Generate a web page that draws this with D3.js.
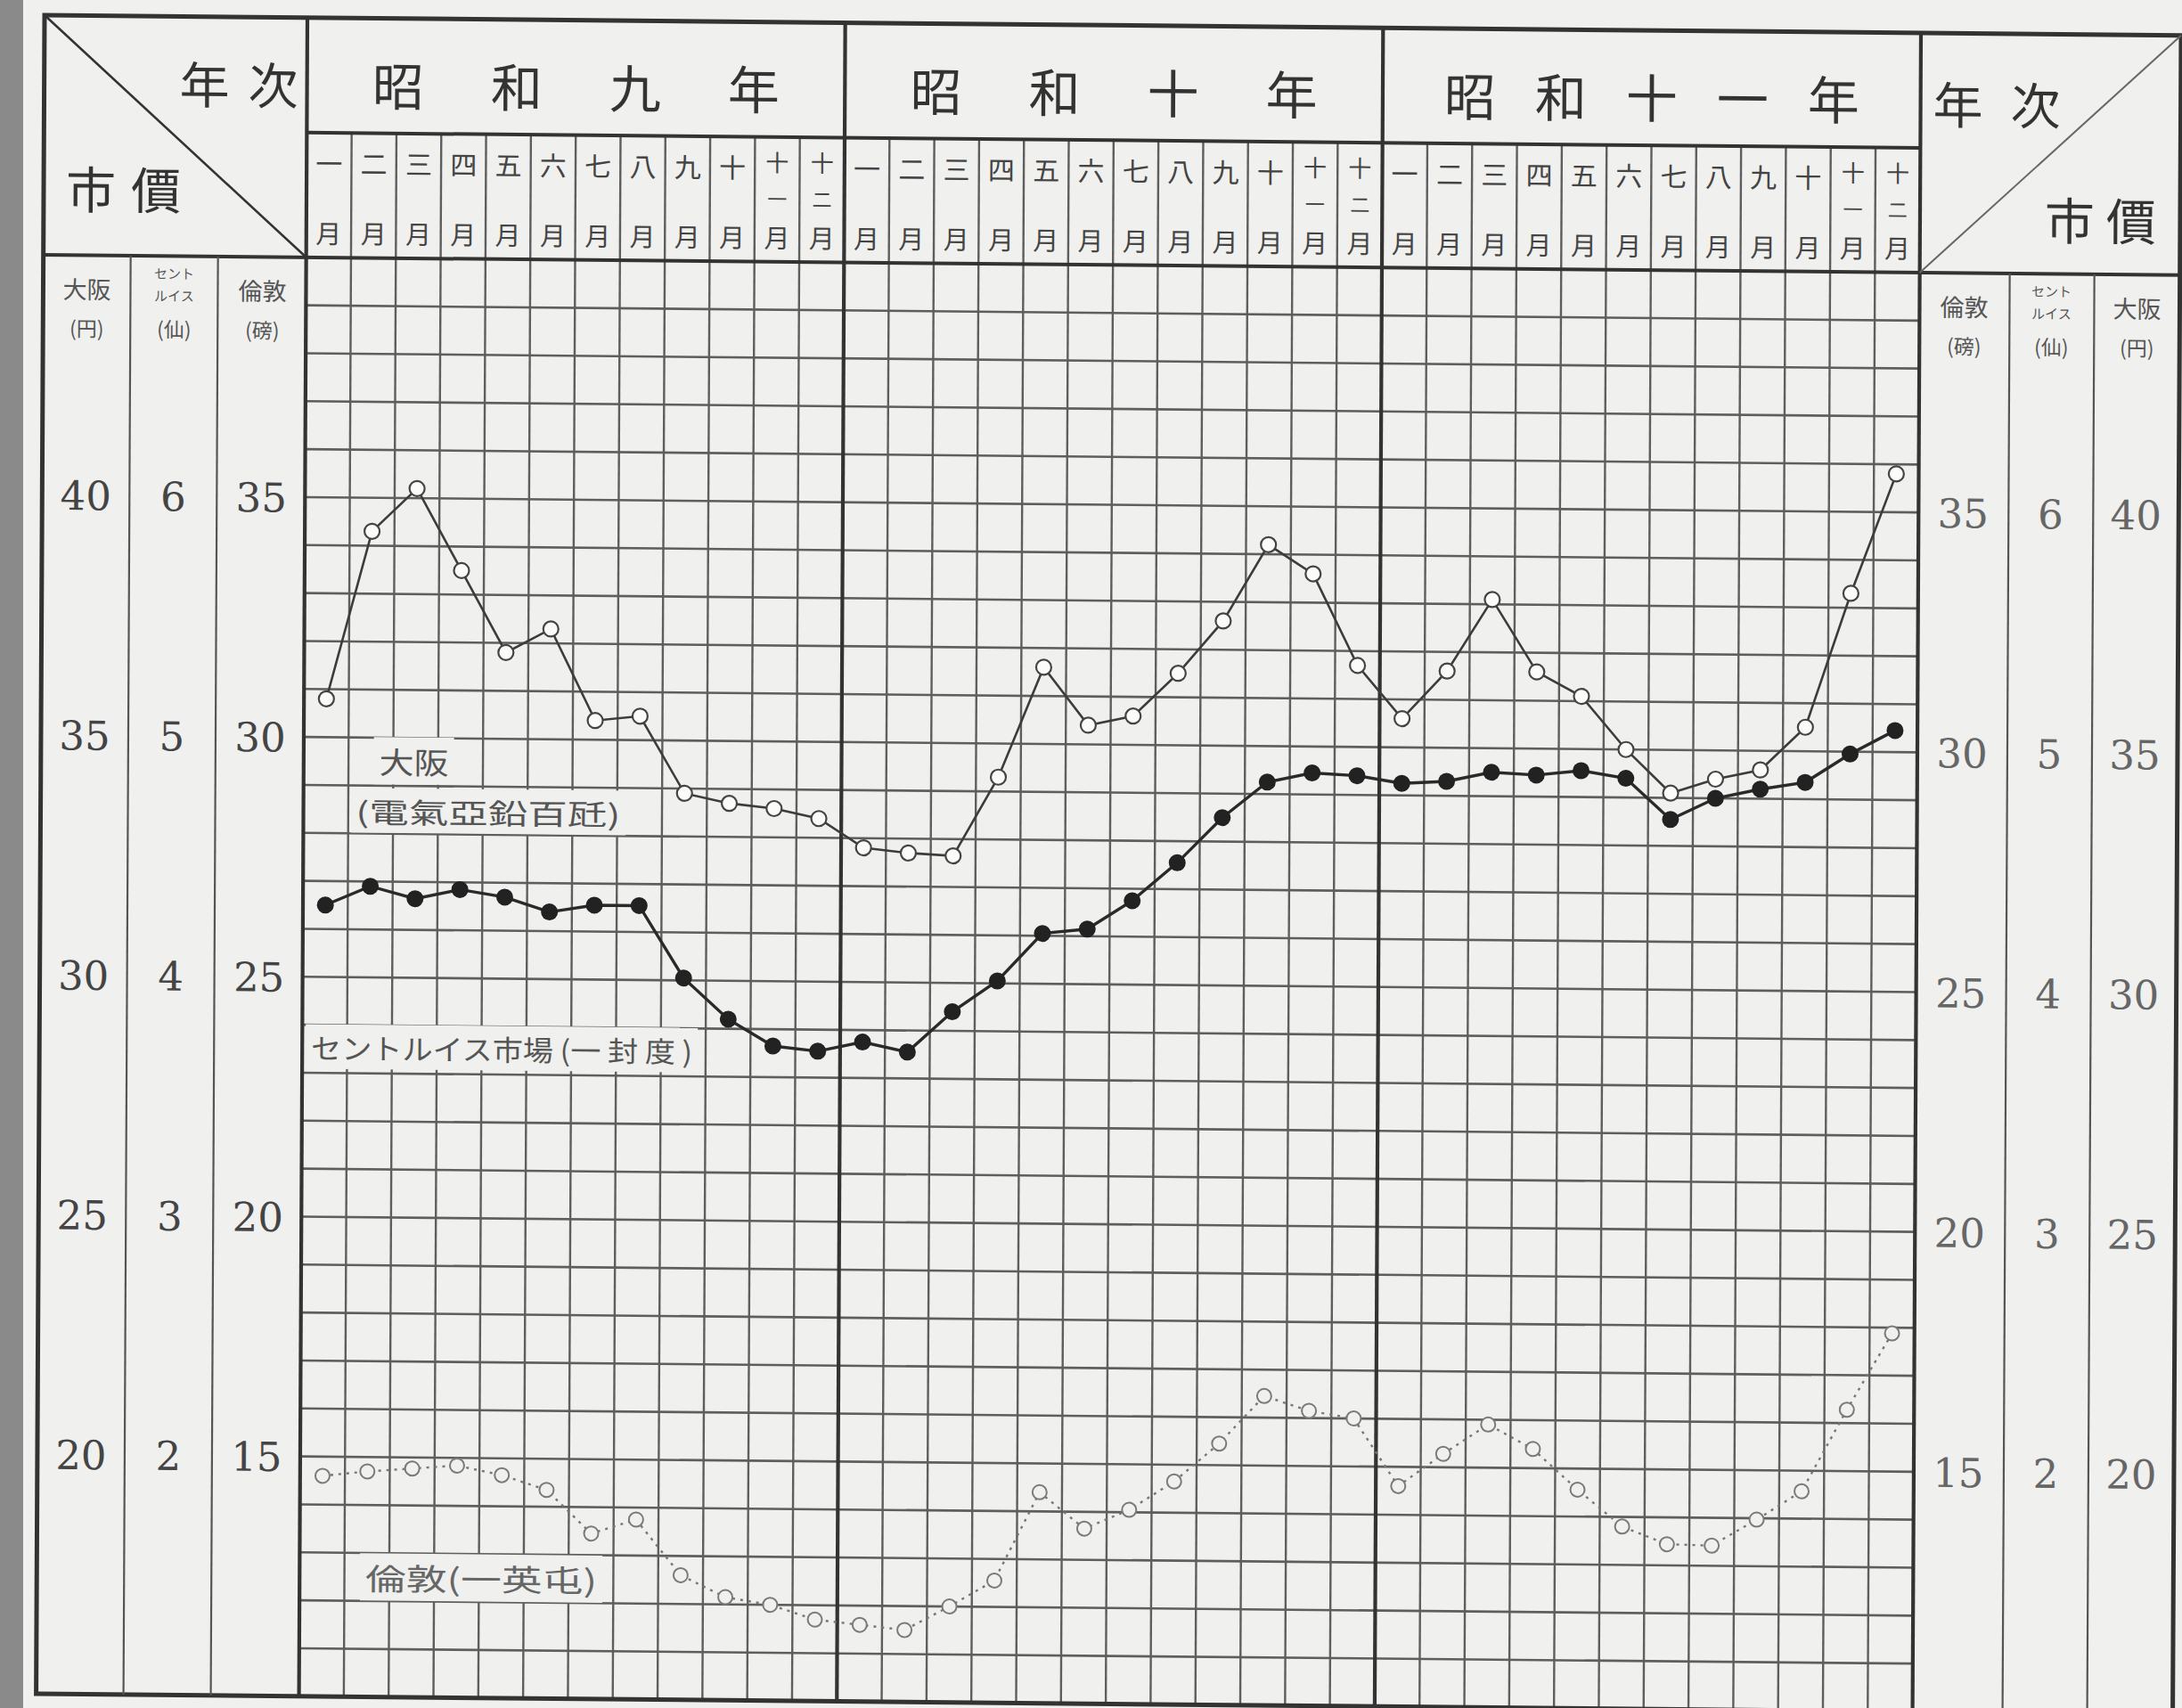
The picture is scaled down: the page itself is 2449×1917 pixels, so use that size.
<!DOCTYPE html>
<html><head><meta charset="utf-8">
<script src="https://cdn.jsdelivr.net/npm/d3@7"></script>
<style>html,body{margin:0;padding:0;background:#f0f0ee;} svg{display:block;}</style>
</head><body>
<svg id="c" width="2449" height="1917"></svg>
<script>
// ---- data ----
const yearLabels = ["昭和九年", "昭和十年", "昭和十一年"];
const monthNums = ["一","二","三","四","五","六","七","八","九","十","十一","十二"];
// 大阪 電氣亞鉛 百瓩 (円)
const osaka = [35.8, 39.3, 40.2, 38.5, 36.8, 37.3, 35.4, 35.5, 33.9, 33.7, 33.6, 33.4,
               32.8, 32.7, 32.65, 34.3, 36.6, 35.4, 35.6, 36.5, 37.6, 39.2, 38.6, 36.7,
               35.6, 36.6, 38.1, 36.6, 36.1, 35.0, 34.1, 34.4, 34.6, 35.5, 38.3, 40.8];
// セントルイス市場 一封度 (仙)
const stlouis = [4.30, 4.38, 4.33, 4.37, 4.34, 4.28, 4.31, 4.31, 4.01, 3.84, 3.73, 3.71,
                 3.75, 3.71, 3.88, 4.01, 4.21, 4.23, 4.35, 4.51, 4.70, 4.85, 4.89, 4.88,
                 4.85, 4.86, 4.90, 4.89, 4.91, 4.88, 4.71, 4.80, 4.84, 4.87, 4.99, 5.09];
// 倫敦 一英屯 (磅)
const london = [14.6, 14.7, 14.77, 14.84, 14.65, 14.35, 13.45, 13.75, 12.6, 12.15, 12.0, 11.7,
                11.6, 11.5, 12.0, 12.55, 14.4, 13.65, 14.05, 14.65, 15.45, 16.45, 16.15, 16.0,
                14.6, 15.28, 15.9, 15.4, 14.56, 13.8, 13.44, 13.42, 13.97, 14.57, 16.28, 17.88];
const londonTicks = [15, 20, 25, 30, 35];
const stlTicks = [2, 3, 4, 5, 6];
const osakaTicks = [20, 25, 30, 35, 40];

(function () {
// ---- layout ----
const PAPER = "#f0f0ee", INK = "#333", CJK = "'Noto Sans CJK JP', 'Noto Sans CJK SC', sans-serif";
const boxL = 0, plotL = 295, plotR = 2106, boxR = 2398, topY = 0, yearRowB = 129, headB = 269, bottom = 1884;

const svg = d3.select("#c");
svg.append("rect").attr("width", 2449).attr("height", 1917).attr("fill", PAPER);
svg.append("rect").attr("x", 0).attr("width", 26).attr("height", 1917).attr("fill", "#8a8a8a");
// scanned page: slight slope of horizontals and lean of verticals
const g = svg.append("g").attr("transform", "matrix(1,0.0095,-0.005,1,50,17)");

const x = d3.scaleLinear().domain([0, 36]).range([plotL, plotR]);
const yL = d3.scaleLinear().domain([10, 40]).range([bottom, headB]);   // 倫敦
const yO = d3.scaleLinear().domain([15, 45]).range([bottom, headB]);   // 大阪
const yS = d3.scaleLinear().domain([1, 7]).range([bottom, headB]);     // セントルイス

// grid
const grid = g.append("g");
grid.selectAll("line.h").data(d3.range(11, 40)).join("line").attr("class", "h")
  .attr("x1", plotL).attr("x2", plotR).attr("y1", d => yL(d)).attr("y2", d => yL(d))
  .attr("stroke", "#5e5e5e").attr("stroke-width", 2.6);
grid.selectAll("line.v").data(d3.range(1, 36).filter(i => i % 12 !== 0)).join("line").attr("class", "v")
  .attr("x1", d => x(d)).attr("x2", d => x(d)).attr("y1", yearRowB).attr("y2", bottom)
  .attr("stroke", "#5e5e5e").attr("stroke-width", 2.4);

// frame lines
const fr = g.append("g").attr("stroke", INK).attr("fill", "none");
fr.append("rect").attr("x", boxL).attr("y", topY).attr("width", boxR - boxL).attr("height", bottom - topY).attr("stroke-width", 5);
fr.append("line").attr("x1", plotL).attr("x2", plotR).attr("y1", yearRowB).attr("y2", yearRowB).attr("stroke-width", 4);
fr.append("line").attr("x1", boxL).attr("x2", boxR).attr("y1", headB).attr("y2", headB).attr("stroke-width", 4);
[0, 12, 24, 36].forEach(i => fr.append("line").attr("x1", x(i)).attr("x2", x(i)).attr("y1", topY).attr("y2", bottom).attr("stroke-width", 4.2));
fr.append("line").attr("x1", boxL).attr("y1", topY).attr("x2", plotL).attr("y2", headB).attr("stroke-width", 2.6);
fr.append("line").attr("x1", plotR).attr("y1", headB).attr("x2", boxR).attr("y2", topY).attr("stroke-width", 2).attr("stroke", "#666");
[98, 196, 2207, 2302].forEach(xx => fr.append("line").attr("x1", xx).attr("x2", xx).attr("y1", headB).attr("y2", bottom).attr("stroke-width", 2.2).attr("stroke", "#555"));

// header texts
function txt(s, cx, cy, size, color, fam) {
  return g.append("text").attr("x", cx).attr("y", cy).attr("text-anchor", "middle")
    .attr("dominant-baseline", "central").attr("font-family", fam || CJK)
    .attr("font-size", size).attr("fill", color || INK).text(s);
}
txt("年", 180, 73, 56); txt("次", 257, 73, 56);
txt("市", 53, 192, 56); txt("價", 126, 192, 56);
txt("年", 2148, 77, 56); txt("次", 2235, 77, 56);
txt("市", 2274, 206, 56); txt("價", 2343, 206, 56);

yearLabels.forEach((lab, yi) => {
  const chars = Array.from(lab);
  const cxm = (x(12 * yi) + x(12 * yi + 12)) / 2;
  const sp = chars.length === 4 ? 133 : 102;
  chars.forEach((c, k) => txt(c, cxm + (k - (chars.length - 1) / 2) * sp, 73, 58));
});

for (let yi = 0; yi < 3; yi++) {
  monthNums.forEach((m, mi) => {
    const cxm = x(12 * yi + mi + 0.5);
    if (m.length === 1) {
      txt(m, cxm, 162, 30, "#444");
    } else {
      txt(m[0], cxm, 156, 26, "#444");
      txt(m[1], cxm, 197, 22, "#444");
    }
    txt("月", cxm, 240, 29, "#444");
  });
}

// column unit labels
function unitCol(cxm, name, unit, color) {
  if (name === "セントルイス") {
    txt("セント", cxm, 288, 15, color);
    txt("ルイス", cxm, 313, 15, color);
  } else {
    txt(name, cxm, 306, 27, color);
  }
  txt(unit, cxm, 350, 23, color);
}
unitCol(49, "大阪", "(円)", "#555");
unitCol(147, "セントルイス", "(仙)", "#555");
unitCol(246, "倫敦", "(磅)", "#555");
unitCol(2156, "倫敦", "(磅)", "#555");
unitCol(2254, "セントルイス", "(仙)", "#555");
unitCol(2350, "大阪", "(円)", "#555");

// axes (numbers in side columns)
function numAxis(cxm, scale, ticks, color) {
  const ax = g.append("g").attr("transform", `translate(${cxm},0)`)
    .call(d3.axisLeft(scale).tickValues(ticks).tickSize(0).tickPadding(0).tickFormat(d3.format("d")));
  ax.select(".domain").remove();
  ax.selectAll(".tick text").attr("x", 0).attr("dy", "0.36em").attr("text-anchor", "middle")
    .attr("font-family", "'DejaVu Serif', 'Liberation Serif', serif").attr("font-size", 45).attr("fill", color);
}
numAxis(49, yO, osakaTicks, "#444");
numAxis(147, yS, stlTicks, "#444");
numAxis(246, yL, londonTicks, "#444");
numAxis(2156, yL, londonTicks, "#666");
numAxis(2254, yS, stlTicks, "#666");
numAxis(2350, yO, osakaTicks, "#666");

// legend labels with paper background
function label(s, cxm, cy, size, len, color) {
  const gg = g.append("g");
  const r = gg.append("rect");
  const t = gg.append("text").attr("x", cxm).attr("y", cy).attr("text-anchor", "middle")
    .attr("dominant-baseline", "central").attr("font-family", CJK).attr("font-size", size)
    .attr("fill", color).attr("textLength", len).attr("lengthAdjust", "spacingAndGlyphs").text(s);
  const b = t.node().getBBox();
  r.attr("x", b.x - 6).attr("y", b.y - 2).attr("width", b.width + 12).attr("height", b.height + 4).attr("fill", PAPER);
}
label("大阪", x(2.46), yL(29.52), 34, 78, "#555");
label("(電氣亞鉛百瓩)", x(4.12), yL(28.48), 32, 297, "#555");
label("セントルイス市場 (一 封 度 )", x(4.45), yL(23.55), 32, 428, "#555");
label("倫敦(一英屯)", x(4.05), yL(12.5), 34, 260, "#666");

// series
const px = (d, i) => x(i + 0.5);
g.append("path").datum(london).attr("fill", "none").attr("stroke", "#777").attr("stroke-width", 2.4)
  .attr("stroke-dasharray", "3,6").attr("d", d3.line().x(px).y(d => yL(d)));
g.selectAll("circle.lon").data(london).join("circle").attr("class", "lon")
  .attr("cx", px).attr("cy", d => yL(d)).attr("r", 8).attr("fill", PAPER).attr("stroke", "#7a7a7a").attr("stroke-width", 2);

g.append("path").datum(osaka).attr("fill", "none").attr("stroke", "#3c3c3c").attr("stroke-width", 2.6)
  .attr("d", d3.line().x(px).y(d => yO(d)));
g.selectAll("circle.osa").data(osaka).join("circle").attr("class", "osa")
  .attr("cx", px).attr("cy", d => yO(d)).attr("r", 8.5).attr("fill", "#fbfbfa").attr("stroke", "#444").attr("stroke-width", 2.2);

g.append("path").datum(stlouis).attr("fill", "none").attr("stroke", "#2a2a2a").attr("stroke-width", 3.4)
  .attr("d", d3.line().x(px).y(d => yS(d)));
g.selectAll("circle.stl").data(stlouis).join("circle").attr("class", "stl")
  .attr("cx", px).attr("cy", d => yS(d)).attr("r", 9.5).attr("fill", "#222");
})();
</script>
</body></html>
